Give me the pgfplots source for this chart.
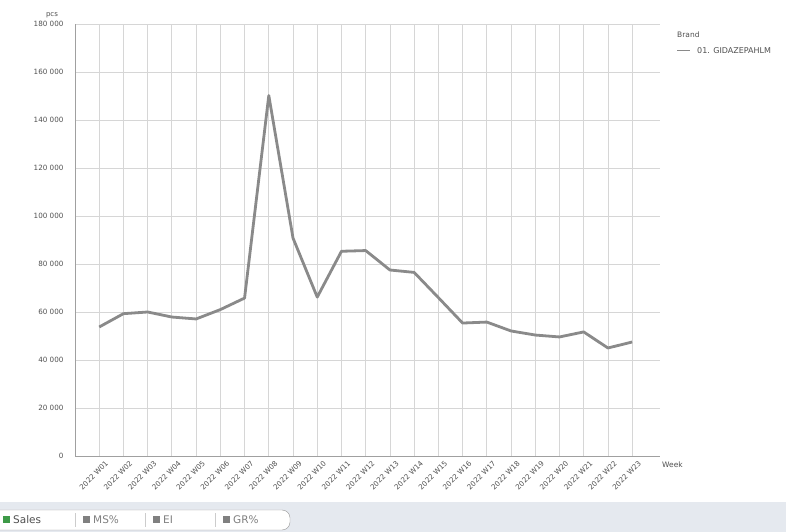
\documentclass[border=0pt]{standalone}
\usepackage{pgfplots}
\pgfplotsset{compat=1.18}
\usepackage{fontspec}
\setmainfont{DejaVu Sans}
\definecolor{lineg}{HTML}{8A8A8A}
\definecolor{gridg}{HTML}{D6D6D6}
\definecolor{axisg}{HTML}{A0A0A0}
\definecolor{txtg}{HTML}{505050}
\definecolor{bandc}{HTML}{E5E9EF}
\definecolor{tabgreen}{HTML}{3E9A48}
\newcommand{\tickfont}{\fontsize{7.2}{8}\selectfont}
\begin{document}
\begin{tikzpicture}[x=1pt,y=1pt]
\useasboundingbox (0,0) rectangle (786,532);
\clip (0,0) rectangle (786,532);
\fill[white] (0,0) rectangle (786,532);
% bottom tab bar
\fill[bandc] (0,0) rectangle (786,30);
\draw[fill=white,draw=gray!80] (-5,22) -- (282,22) arc (90:0:8) -- (290,10) arc (0:-90:8) -- (-5,2);
\fill[tabgreen] (3,9) rectangle (10,16);
\node[anchor=west,text=txtg,font=\fontsize{10.5}{12}\selectfont,inner sep=0] at (13,12.5) {Sales};
\draw[gray!40] (75,5) -- (75,19) (145,5) -- (145,19) (215,5) -- (215,19);
\foreach \xx/\tt in {83/MS\%,153/EI,223/GR\%}{
  \fill[gray] (\xx,9) rectangle (\xx+7,16);
  \node[anchor=west,text=gray,font=\fontsize{10.5}{12}\selectfont,inner sep=0] at (\xx+10,12.5) {\tt};
}
\begin{axis}[
  at={(75pt,76pt)}, anchor=south west,
  scale only axis, width=585pt, height=432pt,
  xmin=-1, xmax=23.15, ymin=0, ymax=180000,
  axis x line*=bottom, axis y line*=left,
  axis line style={axisg},
  major tick length=0pt,
  grid=major, grid style={gridg, line width=0.8pt},
  scaled y ticks=false,
  xtick={0,...,22},
  xticklabels={2022 W01,2022 W02,2022 W03,2022 W04,2022 W05,2022 W06,2022 W07,2022 W08,2022 W09,2022 W10,2022 W11,2022 W12,2022 W13,2022 W14,2022 W15,2022 W16,2022 W17,2022 W18,2022 W19,2022 W20,2022 W21,2022 W22,2022 W23},
  xticklabel style={rotate=45, anchor=north east, font=\tickfont, text=txtg, inner sep=1pt, yshift=-6pt, xshift=2pt},
  ytick={0,20000,...,180000},
  yticklabels={0,20 000,40 000,60 000,80 000,100 000,120 000,140 000,160 000,180 000},
  yticklabel style={font=\tickfont, text=txtg, xshift=-8pt},
  clip=false,
]
\addplot[lineg, line width=2.8pt, line join=round, mark=none] coordinates {
(0,53750) (1,59300) (2,60000) (3,57900) (4,57100) (5,61000) (6,65800)
(7,150200) (8,90800) (9,66200) (10,85300) (11,85600) (12,77500) (13,76500)
(14,66000) (15,55400) (16,55800) (17,52100) (18,50400) (19,49600) (20,51700)
(21,45000) (22,47500)
};
\end{axis}
\node[text=txtg,font=\fontsize{7}{8}\selectfont,inner sep=0] at (52,517) {pcs};
\node[anchor=west,text=txtg,font=\fontsize{7.5}{9}\selectfont,inner sep=0] at (662,67) {Week};
% legend
\node[anchor=west,text=txtg,font=\fontsize{7.5}{9}\selectfont,inner sep=0] at (677,497) {Brand};
\draw[lineg,line width=1pt] (677,481) -- (690,481);
\node[anchor=west,text=txtg,font=\fontsize{8}{9}\selectfont,inner sep=0] at (697,481) {01. GIDAZEPAHLM};
\end{tikzpicture}
\end{document}
